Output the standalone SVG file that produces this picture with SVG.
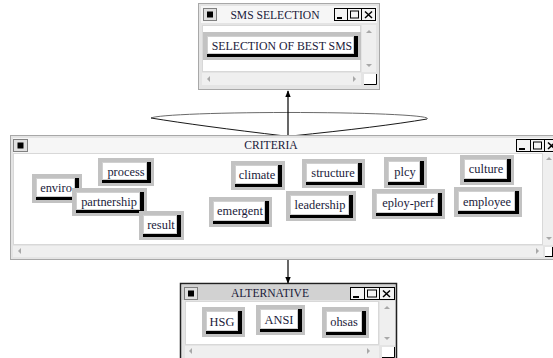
<svg xmlns="http://www.w3.org/2000/svg" width="553" height="358" viewBox="0 0 553 358">
<defs>
<style>
.win{fill:#e4e4e4;stroke:#a8a8a8;stroke-width:1}
.awin{fill:#e4e4e4;stroke:#202020;stroke-width:1.5}
.tbar{fill:#f6f6f6}
.atbar{fill:#d2d2d2}
.ttl{font-family:"Liberation Serif",serif;font-size:11.6px;fill:#1a1a3a;text-anchor:middle}
.content{fill:#ffffff;stroke:#d8d8d8;stroke-width:1}
.sb{fill:#efefef}
.bo{fill:#c2c2c2}
.bs{fill:#000}
.bf{fill:#ffffff;stroke:#d0d0d0;stroke-width:1}
.bt{font-family:"Liberation Serif",serif;font-size:12.4px;fill:#1a1a3a;text-anchor:middle}
.bt2{font-family:"Liberation Serif",serif;font-size:11.8px;fill:#1a1a3a;text-anchor:middle}
.ctl{fill:#f4f4f4;stroke:#000;stroke-width:1}
.sys{fill:#e0e0e0;stroke:#808080;stroke-width:1}
.arr{fill:#a8a8a8}
.conn{stroke:#000;stroke-width:1.2;fill:none}
</style>
<marker id="ah" viewBox="0 0 10 10" refX="9" refY="5" markerWidth="7" markerHeight="7" orient="auto-start-reverse" markerUnits="userSpaceOnUse">
<path d="M0,1 L10,5 L0,9 Z" fill="#000"/>
</marker>
</defs>
<rect width="553" height="358" fill="#ffffff"/>

<g id="connectors">
<path d="M151,118 A138,6 0 0 1 427,119" stroke="#6a6a6a" stroke-width="1" fill="none"/>
<path d="M151,118 Q200,126 285,136" stroke="#1a1a1a" stroke-width="1" fill="none"/>
<path d="M427,119 Q380,127 291,136" stroke="#1a1a1a" stroke-width="1" fill="none"/>
<line class="conn" x1="288" y1="136" x2="288" y2="91" marker-end="url(#ah)"/>
<line class="conn" x1="288" y1="259" x2="288" y2="283" marker-end="url(#ah)"/>
</g>

<g id="sms-selection">
<rect class="win" x="198.5" y="3.5" width="181" height="86"/>
<rect class="tbar" x="201" y="6" width="176" height="17"/>
<rect class="sys" x="203.5" y="8.5" width="13" height="12"/>
<rect x="207" y="11.5" width="6" height="6" fill="#000"/>
<text class="ttl" x="275" y="19">SMS SELECTION</text>
<rect class="ctl" x="334.5" y="8.5" width="13" height="12"/>
<line x1="337" y1="18" x2="342" y2="18" stroke="#000" stroke-width="2"/>
<rect class="ctl" x="347.5" y="8.5" width="14" height="12"/>
<rect x="350.5" y="11" width="8" height="7" fill="none" stroke="#000" stroke-width="1"/>
<rect class="ctl" x="361.5" y="8.5" width="14" height="12"/>
<path d="M365,11.5 L372,18 M372,11.5 L365,18" stroke="#000" stroke-width="1.5"/>
<rect class="content" x="202.5" y="25.5" width="158" height="46"/>
<rect class="sb" x="362" y="25" width="14" height="47"/>
<path d="M366,33 L369,30 L372,33 Z" class="arr"/>
<path d="M366,64 L369,67 L372,64 Z" class="arr"/>
<rect class="sb" x="202" y="73" width="159" height="12"/>
<path d="M207,79 L210,76 L210,82 Z" class="arr"/>
<path d="M353,76 L356,79 L353,82 Z" class="arr"/>
<rect x="364" y="74" width="12" height="11" fill="#fff"/>
<path d="M364,84.5 L376.5,84.5 L376.5,74" stroke="#000" stroke-width="1" fill="none"/>
<g id="btn-best-sms">
<rect class="bo" x="203" y="32" width="158" height="28"/>
<rect class="bs" x="207" y="36" width="151" height="21"/>
<rect class="bf" x="207.5" y="36.5" width="146" height="17"/>
<text class="bt2" x="282" y="49.5">SELECTION OF BEST SMS</text>
</g>
</g>

<g id="criteria">
<rect class="win" x="10.5" y="135.5" width="560" height="124"/>
<rect class="tbar" x="13" y="138" width="555" height="15"/>
<rect class="sys" x="13.5" y="139.5" width="14" height="12"/>
<rect x="17.5" y="142.5" width="6" height="6" fill="#000"/>
<text class="ttl" x="271" y="149">CRITERIA</text>
<rect class="ctl" x="516.5" y="139.5" width="14" height="12"/>
<line x1="519" y1="149" x2="525" y2="149" stroke="#000" stroke-width="2"/>
<rect class="ctl" x="530.5" y="139.5" width="14" height="12"/>
<rect x="533.5" y="142" width="8" height="7" fill="none" stroke="#000" stroke-width="1"/>
<rect class="ctl" x="544.5" y="139.5" width="14" height="12"/>
<path d="M548,142.5 L555,149 M555,142.5 L548,149" stroke="#000" stroke-width="1.5"/>
<rect class="content" x="13.5" y="153.5" width="529" height="91"/>
<rect class="sb" x="543" y="153" width="14" height="92"/>
<path d="M546,160 L549,157 L552,160 Z" class="arr"/>
<path d="M546,237 L549,240 L552,237 Z" class="arr"/>
<rect class="sb" x="13" y="246" width="530" height="11"/>
<path d="M18,251 L21,248 L21,254 Z" class="arr"/>
<path d="M536,248 L539,251 L536,254 Z" class="arr"/>
<rect x="545" y="247" width="10" height="10" fill="#fff"/>
<path d="M545,256.5 L553,256.5 M552.5,247 L552.5,257" stroke="#000" stroke-width="1"/>

<g id="btn-enviro">
<rect class="bo" x="32" y="174" width="50" height="29"/>
<rect class="bs" x="36" y="178" width="43" height="22"/>
<rect class="bf" x="36.5" y="178.5" width="38" height="18"/>
<text class="bt" x="56" y="191.5">enviro</text>
</g>
<g id="btn-process">
<rect class="bo" x="98" y="158" width="56" height="28"/>
<rect class="bs" x="102" y="162" width="49" height="21"/>
<rect class="bf" x="102.5" y="162.5" width="44" height="17"/>
<text class="bt" x="126" y="175.5">process</text>
</g>
<g id="btn-partnership">
<rect class="bo" x="72" y="188" width="75" height="28"/>
<rect class="bs" x="76" y="192" width="68" height="21"/>
<rect class="bf" x="76.5" y="192.5" width="63" height="17"/>
<text class="bt" x="109" y="205.5">partnership</text>
</g>
<g id="btn-result">
<rect class="bo" x="139" y="211" width="45" height="29"/>
<rect class="bs" x="143" y="215" width="38" height="22"/>
<rect class="bf" x="143.5" y="215.5" width="33" height="18"/>
<text class="bt" x="161" y="229">result</text>
</g>
<g id="btn-climate">
<rect class="bo" x="231" y="161" width="54" height="29"/>
<rect class="bs" x="235" y="165" width="47" height="22"/>
<rect class="bf" x="235.5" y="165.5" width="42" height="18"/>
<text class="bt" x="257" y="178.5">climate</text>
</g>
<g id="btn-emergent">
<rect class="bo" x="209" y="197" width="63" height="30"/>
<rect class="bs" x="213" y="201" width="56" height="23"/>
<rect class="bf" x="213.5" y="201.5" width="51" height="19"/>
<text class="bt" x="240" y="215">emergent</text>
</g>
<g id="btn-structure">
<rect class="bo" x="302" y="159" width="63" height="29"/>
<rect class="bs" x="306" y="163" width="56" height="22"/>
<rect class="bf" x="306.5" y="163.5" width="51" height="18"/>
<text class="bt" x="333" y="177">structure</text>
</g>
<g id="btn-leadership">
<rect class="bo" x="286" y="191" width="70" height="30"/>
<rect class="bs" x="290" y="195" width="63" height="23"/>
<rect class="bf" x="290.5" y="195.5" width="58" height="19"/>
<text class="bt" x="320" y="209">leadership</text>
</g>
<g id="btn-plcy">
<rect class="bo" x="384" y="157" width="43" height="31"/>
<rect class="bs" x="388" y="161" width="36" height="24"/>
<rect class="bf" x="388.5" y="161.5" width="31" height="20"/>
<text class="bt" x="405" y="176">plcy</text>
</g>
<g id="btn-eploy-perf">
<rect class="bo" x="372" y="189" width="73" height="30"/>
<rect class="bs" x="376" y="193" width="66" height="23"/>
<rect class="bf" x="376.5" y="193.5" width="61" height="19"/>
<text class="bt" x="408" y="207">eploy-perf</text>
</g>
<g id="btn-culture">
<rect class="bo" x="460" y="155" width="54" height="30"/>
<rect class="bs" x="464" y="159" width="47" height="23"/>
<rect class="bf" x="464.5" y="159.5" width="42" height="19"/>
<text class="bt" x="486" y="173">culture</text>
</g>
<g id="btn-employee">
<rect class="bo" x="454" y="187" width="68" height="30"/>
<rect class="bs" x="458" y="191" width="61" height="23"/>
<rect class="bf" x="458.5" y="191.5" width="56" height="19"/>
<text class="bt" x="487" y="205.5">employee</text>
</g>
</g>

<g id="alternative">
<rect class="awin" x="180.5" y="283.5" width="216" height="80"/>
<rect class="atbar" x="182" y="285" width="213" height="15"/>
<rect class="sys" x="184.5" y="287.5" width="13" height="12"/>
<rect x="188" y="290.5" width="6" height="6" fill="#000"/>
<text class="ttl" x="270" y="297">ALTERNATIVE</text>
<rect class="ctl" x="350.5" y="287.5" width="14" height="12"/>
<line x1="353" y1="297" x2="359" y2="297" stroke="#000" stroke-width="2"/>
<rect class="ctl" x="364.5" y="287.5" width="15" height="12"/>
<rect x="367.5" y="290" width="9" height="7" fill="none" stroke="#000" stroke-width="1"/>
<rect class="ctl" x="379.5" y="287.5" width="15" height="12"/>
<path d="M383,290.5 L390,297 M390,290.5 L383,297" stroke="#000" stroke-width="1.5"/>
<rect class="content" x="185.5" y="301.5" width="193" height="43"/>
<rect class="sb" x="380" y="301" width="15" height="44"/>
<path d="M384,309 L387,306 L390,309 Z" class="arr"/>
<path d="M384,337 L387,340 L390,337 Z" class="arr"/>
<rect class="sb" x="185" y="346" width="194" height="12"/>
<path d="M189,351 L192,348 L192,354 Z" class="arr"/>
<path d="M367,348 L370,351 L367,354 Z" class="arr"/>
<rect x="382" y="347" width="12" height="11" fill="#fff"/>
<path d="M382,357.5 L394.5,357.5 L394.5,347" stroke="#000" stroke-width="1" fill="none"/>
<g id="btn-hsg">
<rect class="bo" x="202" y="307" width="43" height="30"/>
<rect class="bs" x="206" y="311" width="36" height="23"/>
<rect class="bf" x="206.5" y="311.5" width="31" height="19"/>
<text class="bt" x="222" y="326">HSG</text>
</g>
<g id="btn-ansi">
<rect class="bo" x="256" y="305" width="49" height="30"/>
<rect class="bs" x="260" y="309" width="42" height="23"/>
<rect class="bf" x="260.5" y="309.5" width="37" height="19"/>
<text class="bt" x="279" y="324">ANSI</text>
</g>
<g id="btn-ohsas">
<rect class="bo" x="322" y="307" width="47" height="31"/>
<rect class="bs" x="326" y="311" width="40" height="24"/>
<rect class="bf" x="326.5" y="311.5" width="35" height="20"/>
<text class="bt" x="344" y="326">ohsas</text>
</g>
</g>
</svg>
